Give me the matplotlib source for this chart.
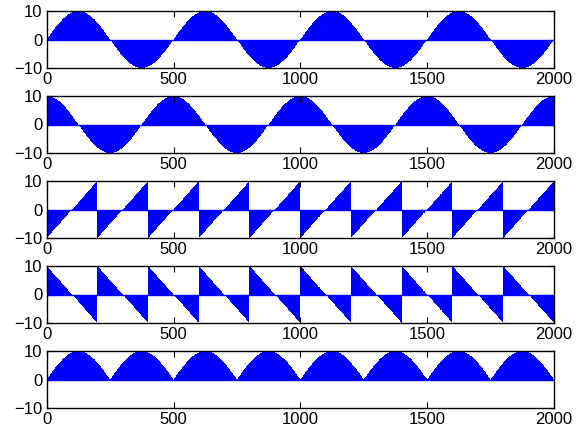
import numpy as np
import matplotlib
matplotlib.use('Agg')
import matplotlib.pyplot as plt

# values: 2000 samples per panel, amplitude 10
n_samples = 2000
amplitude = 10
sine_period = 500      # panels 1, 2, 5
saw_period = 200       # panels 3, 4
x_ticks = [0, 500, 1000, 1500, 2000]
y_ticks = [-10, 0, 10]

x = np.arange(n_samples)
sine_wave = amplitude * np.sin(2 * np.pi * x / sine_period)
cosine_wave = amplitude * np.cos(2 * np.pi * x / sine_period)
saw_up = amplitude * (2 * (x % saw_period) / saw_period - 1)
saw_down = -saw_up
abs_sine = np.abs(sine_wave)
series = [sine_wave, cosine_wave, saw_up, saw_down, abs_sine]

plt.rcParams['font.family'] = ['Liberation Sans', 'DejaVu Sans']
plt.rcParams['font.size'] = 12

fig = plt.figure(figsize=(5.84, 4.33), dpi=100)
W, H = 584.0, 433.0
left, right = 46.7, 554.0
for i, y in enumerate(series):
    top = 11 + 85 * i
    bottom = top + 57
    ax = fig.add_axes([left / W, 1 - bottom / H, (right - left) / W, (bottom - top) / H])
    ax.bar(x, y, width=1.0, color='#0000ff', linewidth=0, antialiased=False)
    # bar baseline
    ax.axhline(0, color='#0000ff', linewidth=1.0)
    ax.set_xlim(0, 2000)
    ax.set_ylim(-10, 10)
    ax.set_xticks(x_ticks)
    ax.set_yticks(y_ticks)
    ax.tick_params(direction='in', top=True, right=True, length=4, width=0.8, pad=3)
    for s in ax.spines.values():
        s.set_linewidth(1.0)

fig.savefig('out.png', dpi=100)
